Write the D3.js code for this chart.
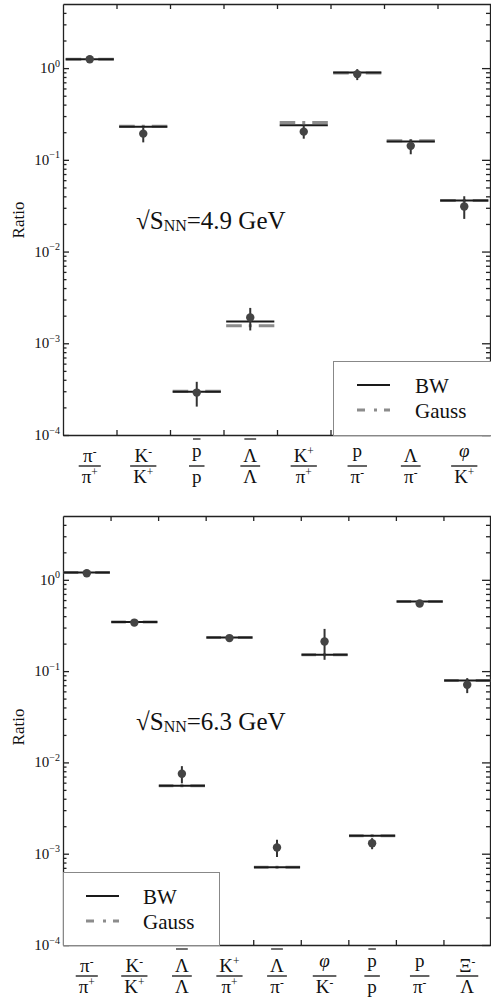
<!DOCTYPE html>
<html>
<head>
<meta charset="utf-8">
<script src="https://cdn.jsdelivr.net/npm/d3@7"></script>
<style>
  body { margin: 0; background: #fff; }
  svg { display: block; }
  text { font-family: "Liberation Serif", "Times New Roman", Times, serif; fill: #111; }
</style>
</head>
<body>
<svg id="chart" width="491" height="1003"></svg>
<script>
// Particle ratio labels: [numerator, denominator].
// "^" begins a superscript, a leading "!" puts a bar over the symbol.
const labels49 = [["π^-","π^+"],["K^-","K^+"],["!p","p"],["!Λ","Λ"],["K^+","π^+"],["p","π^-"],["Λ","π^-"],["φ","K^+"]];
const bw49     = [1.25, 0.230, 2.97e-4, 1.73e-3, 0.238, 0.897, 0.158, 0.036];
const gauss49  = [1.25, 0.232, 2.99e-4, 1.55e-3, 0.255, 0.885, 0.161, 0.036];
const meas49   = [1.25, 0.193, 2.90e-4, 1.91e-3, 0.203, 0.860, 0.142, 0.031];
const lo49     = [1.22, 0.155, 2.04e-4, 1.38e-3, 0.170, 0.740, 0.115, 0.0227];
const hi49     = [1.28, 0.227, 3.80e-4, 2.43e-3, 0.238, 0.975, 0.167, 0.0401];

const labels63 = [["π^-","π^+"],["K^-","K^+"],["!Λ","Λ"],["K^+","π^+"],["!Λ","π^-"],["φ","K^-"],["!p","p"],["p","π^-"],["Ξ^-","Λ"]];
const bw63     = [1.20, 0.344, 5.54e-3, 0.233, 7.1e-4, 0.151, 1.57e-3, 0.579, 0.0789];
const gauss63  = [1.20, 0.344, 5.54e-3, 0.233, 7.1e-4, 0.151, 1.57e-3, 0.579, 0.0789];
const meas63   = [1.18, 0.340, 7.50e-3, 0.230, 1.17e-3, 0.211, 1.30e-3, 0.550, 0.0708];
const lo63     = [1.15, 0.330, 5.90e-3, 0.224, 9.2e-4, 0.133, 1.12e-3, 0.535, 0.0574];
const hi63     = [1.21, 0.352, 9.10e-3, 0.236, 1.42e-3, 0.290, 1.48e-3, 0.565, 0.0838];

const yDomain = [1e-4, 5];
const yMajor  = [1e-4, 1e-3, 1e-2, 1e-1, 1];
const yMajorExp = ["−4", "−3", "−2", "−1", "0"];
const legendNames = ["BW", "Gauss"];

const svg = d3.select("#chart");
const L = 63, R = 491;
const axisColor = "#222";

const panels = [
  { top: 4, bottom: 435, labels: labels49, bw: bw49, gauss: gauss49, meas: meas49, lo: lo49, hi: hi49,
    energy: "4.9", lineFrac: 0.9, legend: { x: 333, y: 361, w: 160, h: 74, lx: 357, tx: 415 },
    energyY: 229, ratioY: 220 },
  { top: 516, bottom: 945, labels: labels63, bw: bw63, gauss: gauss63, meas: meas63, lo: lo63, hi: hi63,
    energy: "6.3", lineFrac: 0.97, legend: { x: 63, y: 872, w: 156, h: 73, lx: 86, tx: 143 },
    energyY: 730, ratioY: 727 }
];

// dash–dot pattern that fits a segment of length len
function dashDot(len) {
  const gap = 7, dot = 3;
  const dash = Math.max(2, (len - 2 * gap - dot) / 2);
  return `${dash},${gap},${dot},${gap},${dash + 10}`;
}

function styleAxis(g) {
  g.selectAll("path, line").attr("stroke", axisColor).attr("stroke-width", 1.3);
  g.selectAll("text").remove();
}

// one symbol with optional superscript / bar, centred on cx
function mathTerm(g, str, cx, y) {
  const over = str.startsWith("!");
  const s = over ? str.slice(1) : str;
  const [base, sup] = s.split("^");
  const t = g.append("text").attr("x", cx).attr("y", y).attr("text-anchor", "middle").attr("font-size", 19);
  const b = t.append("tspan").text(base);
  if (base === "φ") b.attr("font-style", "italic");
  if (sup) t.append("tspan").attr("font-size", 11.5).attr("dy", -7.5).text(sup);
  const width = t.node().getComputedTextLength();
  const baseWidth = b.node().getComputedTextLength();
  return { over, width, baseWidth, base };
}

function drawPanel(p) {
  const n = p.labels.length;
  const g = svg.append("g");
  const x = d3.scaleBand().domain(d3.range(n)).range([L, R]);
  const xb = d3.scaleLinear().domain([0, n]).range([L, R]);
  const y = d3.scaleLog().domain(yDomain).range([p.bottom, p.top]);

  const minor = [];
  for (let e = -4; e <= 0; e++) {
    for (let m = 2; m <= 9; m++) {
      const v = m * Math.pow(10, e);
      if (v < yDomain[1]) minor.push(v);
    }
  }

  // left axis (ticks pointing inward)
  g.append("g").attr("transform", `translate(${L},0)`)
    .call(d3.axisRight(y).tickValues(yMajor).tickSize(6).tickSizeOuter(0).tickFormat("")).call(styleAxis);
  g.append("g").attr("transform", `translate(${L},0)`)
    .call(d3.axisRight(y).tickValues(minor).tickSize(3.5).tickSizeOuter(0).tickFormat(""))
    .call(styleAxis).select(".domain").remove();
  // right axis
  g.append("g").attr("transform", `translate(${R - 1},0)`)
    .call(d3.axisLeft(y).tickValues(yMajor).tickSize(8).tickSizeOuter(0).tickFormat("")).call(styleAxis);
  g.append("g").attr("transform", `translate(${R - 1},0)`)
    .call(d3.axisLeft(y).tickValues(minor).tickSize(4).tickSizeOuter(0).tickFormat(""))
    .call(styleAxis).select(".domain").remove();
  // bottom and top axes with ticks at category boundaries
  g.append("g").attr("transform", `translate(0,${p.bottom})`)
    .call(d3.axisTop(xb).tickValues(d3.range(1, n)).tickSize(5).tickSizeOuter(0).tickFormat("")).call(styleAxis);
  g.append("g").attr("transform", `translate(0,${p.top})`)
    .call(d3.axisBottom(xb).tickValues(d3.range(1, n)).tickSize(5).tickSizeOuter(0).tickFormat("")).call(styleAxis);

  // y tick labels 10^k
  yMajor.forEach((v, i) => {
    const t = g.append("text").attr("x", L - 3).attr("y", y(v) + 5)
      .attr("text-anchor", "end").attr("font-size", 15);
    t.append("tspan").text("10");
    t.append("tspan").attr("font-size", 10).attr("dy", -6.5).text(yMajorExp[i]);
  });

  // y axis title
  g.append("text").attr("transform", `translate(24,${p.ratioY}) rotate(-90)`)
    .attr("text-anchor", "middle").attr("font-size", 17).text("Ratio");

  // fraction labels under each category
  const barY = p.bottom + 31;
  p.labels.forEach((lab, i) => {
    const cx = x(i) + x.bandwidth() / 2;
    const numDesc = /[pφ]/.test(lab[0]);
    const num = mathTerm(g, lab[0], cx, barY - (numDesc ? 9 : 4));
    const den = mathTerm(g, lab[1], cx, barY + 17);
    [num, den].forEach((term, k) => {
      if (!term.over) return;
      const x0 = cx - term.width / 2;
      const oy = k === 0 ? barY - 27 : barY + 2;
      g.append("line").attr("x1", x0 + 1).attr("x2", x0 + term.baseWidth - 1)
        .attr("y1", oy).attr("y2", oy).attr("stroke", "#111").attr("stroke-width", 1.2);
    });
    const bw = Math.max(num.width, den.width) + 6;
    g.append("line").attr("x1", cx - bw / 2).attr("x2", cx + bw / 2)
      .attr("y1", barY).attr("y2", barY).attr("stroke", "#111").attr("stroke-width", 1.3);
  });

  // model lines
  const len = x.bandwidth() * p.lineFrac;
  const x0 = i => x(i) + (x.bandwidth() - len) / 2;
  g.append("g").selectAll("line").data(p.gauss).join("line")
    .attr("x1", (d, i) => x0(i)).attr("x2", (d, i) => x0(i) + len)
    .attr("y1", d => y(d)).attr("y2", d => y(d))
    .attr("stroke", "#8c8c8c").attr("stroke-width", 3).attr("stroke-dasharray", dashDot(len));
  g.append("g").selectAll("line").data(p.bw).join("line")
    .attr("x1", (d, i) => x0(i)).attr("x2", (d, i) => x0(i) + len)
    .attr("y1", d => y(d)).attr("y2", d => y(d))
    .attr("stroke", "#1a1a1a").attr("stroke-width", 2);

  // measured ratios with error bars
  const cxs = i => x(i) + x.bandwidth() / 2;
  g.append("g").selectAll("line").data(p.meas).join("line")
    .attr("x1", (d, i) => cxs(i)).attr("x2", (d, i) => cxs(i))
    .attr("y1", (d, i) => y(p.hi[i])).attr("y2", (d, i) => y(p.lo[i]))
    .attr("stroke", "#333").attr("stroke-width", 2);
  g.append("g").selectAll("circle").data(p.meas).join("circle")
    .attr("cx", (d, i) => cxs(i)).attr("cy", d => y(d)).attr("r", 4.2).attr("fill", "#444");

  // energy annotation
  const et = g.append("text").attr("x", 136).attr("y", p.energyY).attr("font-size", 25);
  et.append("tspan").text("√S");
  et.append("tspan").attr("font-size", 16).attr("dy", 2).text("NN");
  et.append("tspan").attr("dy", -2).text(`=${p.energy} GeV`);

  // legend
  const lg = p.legend;
  g.append("rect").attr("x", lg.x + 0.5).attr("y", lg.y + 0.5).attr("width", lg.w).attr("height", lg.h)
    .attr("fill", "#fff").attr("stroke", "#888").attr("stroke-width", 1);
  const rowY = [lg.y + 24, lg.y + 49];
  g.append("line").attr("x1", lg.lx).attr("x2", lg.lx + 33).attr("y1", rowY[0]).attr("y2", rowY[0])
    .attr("stroke", "#1a1a1a").attr("stroke-width", 2);
  g.append("line").attr("x1", lg.lx).attr("x2", lg.lx + 33).attr("y1", rowY[1]).attr("y2", rowY[1])
    .attr("stroke", "#8c8c8c").attr("stroke-width", 3).attr("stroke-dasharray", "8,9,3,7,8");
  legendNames.forEach((name, k) => {
    g.append("text").attr("x", lg.tx).attr("y", rowY[k] + 7.5).attr("font-size", 21).text(name);
  });
}

panels.forEach(drawPanel);
</script>
</body>
</html>
